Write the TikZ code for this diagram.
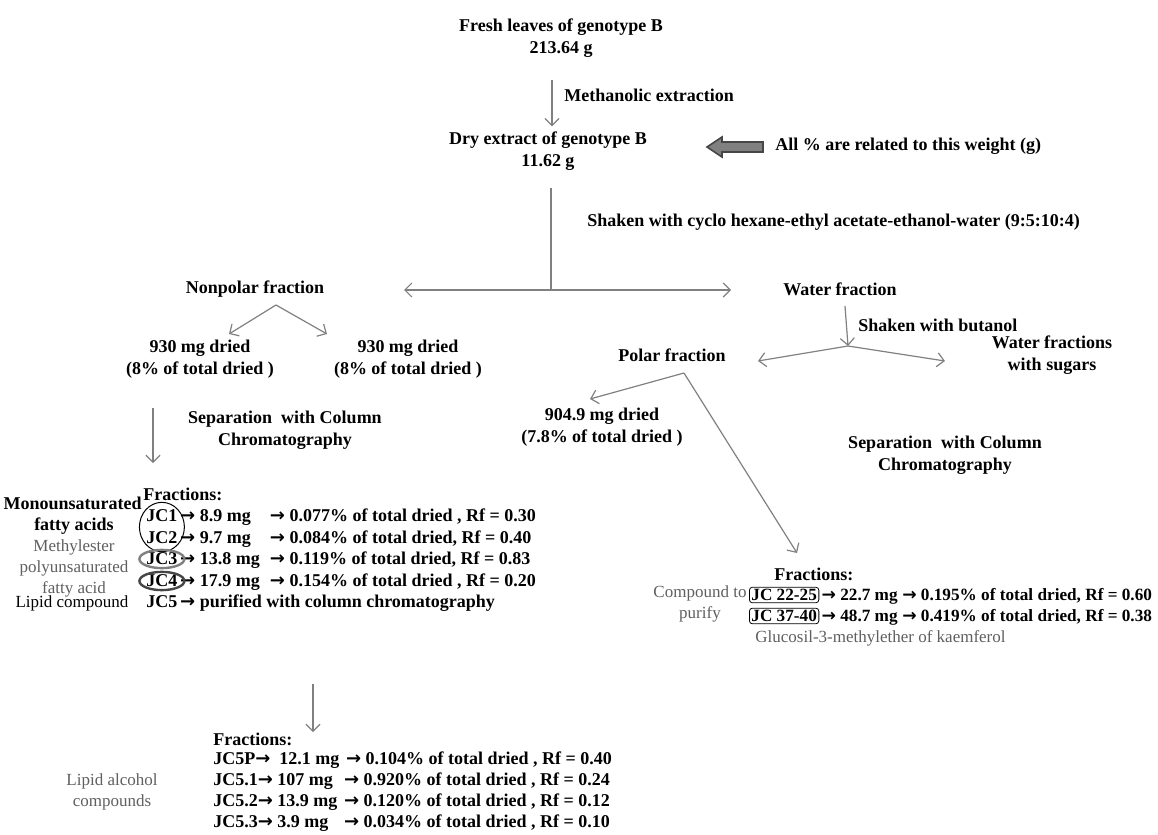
\documentclass[tikz,border=0pt]{standalone}
\usepackage{fontspec}
\setmainfont{Liberation Serif}
\newfontfamily\arrowfont{DejaVu Sans}
\usetikzlibrary{arrows.meta, positioning, shapes.geometric, fit}
\definecolor{linkcol}{RGB}{128,128,128}
\definecolor{notecol}{RGB}{95,95,95}
\definecolor{ringcol}{RGB}{70,70,70}
\newcommand{\ra}{{\arrowfont\bfseries\char"2192}}
\newcommand{\mgcol}[2][3.7em]{\makebox[#1][l]{#2}}

\begin{document}
\begin{tikzpicture}[
  x=0.5pt, y=-0.5pt,
  every node/.style={inner sep=0pt, font=\fontsize{9}{11}\selectfont\bfseries},
  lbl/.style={align=center},
  note/.style={align=center, text=notecol, font=\fontsize{8.5}{10.5}\selectfont},
  arr/.style={draw=linkcol, line width=0.6pt, -{Straight Barb[length=3.5pt,width=7pt]}},
  link/.style={draw=linkcol, line width=0.6pt},
  jcbox/.style={draw, rounded corners=1.5pt, inner sep=1pt, line width=0.4pt},
  ring/.style={draw, ellipse, inner sep=0pt},
  narrow/.style={font=\fontsize{8.6}{11}\selectfont\bfseries}
]
\useasboundingbox (0,0) rectangle (1158,835);

% Extraction
\node[lbl] (fresh) at (561,38) {Fresh leaves of genotype B\\213.64 g};
\node[lbl] (dry) at (548,151) {Dry extract of genotype B\\11.62 g};
\coordinate (col) at (552,0);
\draw[arr, shorten <=11pt, shorten >=2.5pt] (fresh.south -| col) -- (dry.north -| col);
\node[anchor=west] (meth) at (564,95) {Methanolic extraction};
% weight pointer
\draw[draw=ringcol, fill=linkcol, line width=0.8pt]
  (707,147) -- (722,137) -- (722,142) -- (763,142) -- (763,152) -- (722,152) -- (722,157) -- cycle;
\node[anchor=west] (allpct) at (775,146) {All \% are related to this weight (g)};

% Solvent partition
\coordinate (split) at (551,290);
\coordinate (npend) at (404,290);
\coordinate (wfend) at (731,290);
\draw[link, shorten <=8.5pt] (dry.south -| split) -- (split);
\draw[arr] (split) -- (npend);
\draw[arr] (split) -- (wfend);
\node[anchor=west] (shake) at (587,222) {Shaken with cyclo hexane-ethyl acetate-ethanol-water (9:5:10:4)};
\node (nonpolar) at (255,289) {Nonpolar fraction};
\node (water) at (840,289) {Water fraction};

% Nonpolar branch
\coordinate (npapex) at (276,305);
\coordinate (dltip) at (229,334);
\coordinate (drtip) at (327,334);
\draw[arr] (npapex) -- (dltip);
\draw[arr] (npapex) -- (drtip);
\node[lbl] (dl) at (200,359) {930 mg dried\\(8\% of total dried )};
\node[lbl] (dr) at (408,359) {930 mg dried\\(8\% of total dried )};
\coordinate (sltop) at (153,408);
\coordinate (sltip) at (153,463);
\draw[arr] (sltop) -- (sltip);
\node[lbl] (sepl) at (285,430) {Separation\ \ with Column\\Chromatography};

% Water branch
\coordinate (wtop) at (845,306);
\coordinate (wapex) at (848,346);
\coordinate (poltip) at (758,361);
\coordinate (sugtip) at (945,361);
\draw[arr] (wtop) -- (wapex);
\draw[arr] (wapex) -- (poltip);
\draw[arr] (wapex) -- (sugtip);
\node[anchor=west] (buta) at (858,325) {Shaken with butanol};
\node[lbl] (sugar) at (1052,355) {Water fractions\\with sugars};
\node (polar) at (672,355) {Polar fraction};
\coordinate (papex) at (684,373);
\coordinate (pdtip) at (590,399);
\coordinate (pctip) at (797,553);
\draw[arr] (papex) -- (pdtip);
\draw[arr] (papex) -- (pctip);
\node[lbl] (pdry) at (602,427) {904.9 mg dried\\(7.8\% of total dried )};
\node[lbl] (sepr) at (945,455) {Separation\ \ with Column\\Chromatography};

% Nonpolar fractions
\node[anchor=west] (fracl) at (143,494) {Fractions:};
\node[anchor=west] (jc1) at (146,516) {JC1};
\node[base right=1pt of jc1] (r1) {\ra\ \mgcol[3.9em]{8.9 mg}\ra\ 0.077\% of total dried , Rf = 0.30};
\node[anchor=west] (jc2) at (146,538) {JC2};
\node[base right=1pt of jc2] (r2) {\ra\ \mgcol[3.9em]{9.7 mg}\ra\ 0.084\% of total dried, Rf = 0.40};
\node[anchor=west] (jc3) at (146,559) {JC3};
\node[base right=1pt of jc3] (r3) {\ra\ \mgcol[3.9em]{13.8 mg}\ra\ 0.119\% of total dried, Rf = 0.83};
\node[anchor=west] (jc4) at (146,581) {JC4};
\node[base right=1pt of jc4] (r4) {\ra\ \mgcol[3.9em]{17.9 mg}\ra\ 0.154\% of total dried , Rf = 0.20};
\node[anchor=west] (jc5) at (146,602) {JC5};
\node[base right=1pt of jc5] (r5) {\ra\ purified with column chromatography};
\node[ring, draw=black, line width=0.5pt, fit=(jc1)(jc2)] (mono) {};
\node[ring, draw=linkcol, line width=1.2pt, fit=(jc3)] (methyl) {};
\node[ring, draw=ringcol, line width=1.2pt, fit=(jc4)] (lipid) {};
\node[lbl, anchor=north east] (monol) at (142,497) {Monounsaturated};
\node (fattyl) at (74,526) {fatty acids};
\node[note] (methl) at (74,568) {Methylester\\polyunsaturated\\fatty acid};
\node[note, text=black] (lipl) at (72,603) {Lipid compound};

% Lipid compound fractions
\coordinate (jtop) at (313,684);
\coordinate (jtip) at (313,732);
\draw[arr] (jtop) -- (jtip);
\node[anchor=west] (fracb) at (213,739) {Fractions:};
\node[anchor=west] (b1) at (213,760) {JC5P\ra\ \ \mgcol{12.1 mg}\ra\ 0.104\% of total dried , Rf = 0.40};
\node[anchor=west] (b2) at (213,781) {JC5.1\ra\ \mgcol{107 mg}\ra\ 0.920\% of total dried , Rf = 0.24};
\node[anchor=west] (b3) at (213,802) {JC5.2\ra\ \mgcol{13.9 mg}\ra\ 0.120\% of total dried , Rf = 0.12};
\node[anchor=west] (b4) at (213,823) {JC5.3\ra\ \mgcol{3.9 mg}\ra\ 0.034\% of total dried , Rf = 0.10};
\node[note] (alcl) at (112,792) {Lipid alcohol\\compounds};

% Polar fractions
\node[anchor=west] (fracr) at (774,574) {Fractions:};
\node[jcbox, narrow, anchor=west] (ja) at (749,595) {JC 22-25};
\node[narrow, base right=1pt of ja] (ra) {\ra\ \mgcol[3.6em]{22.7 mg}\ra\ 0.195\% of total dried, Rf = 0.60};
\node[jcbox, narrow, anchor=west] (jb) at (749,616) {JC 37-40};
\node[narrow, base right=1pt of jb] (rb) {\ra\ \mgcol[3.6em]{48.7 mg}\ra\ 0.419\% of total dried, Rf = 0.38};
\node[note] (purl) at (700,604) {Compound to\\purify};
\node[note, anchor=west] (glul) at (755,638) {Glucosil-3-methylether of kaemferol};
\end{tikzpicture}
\end{document}
